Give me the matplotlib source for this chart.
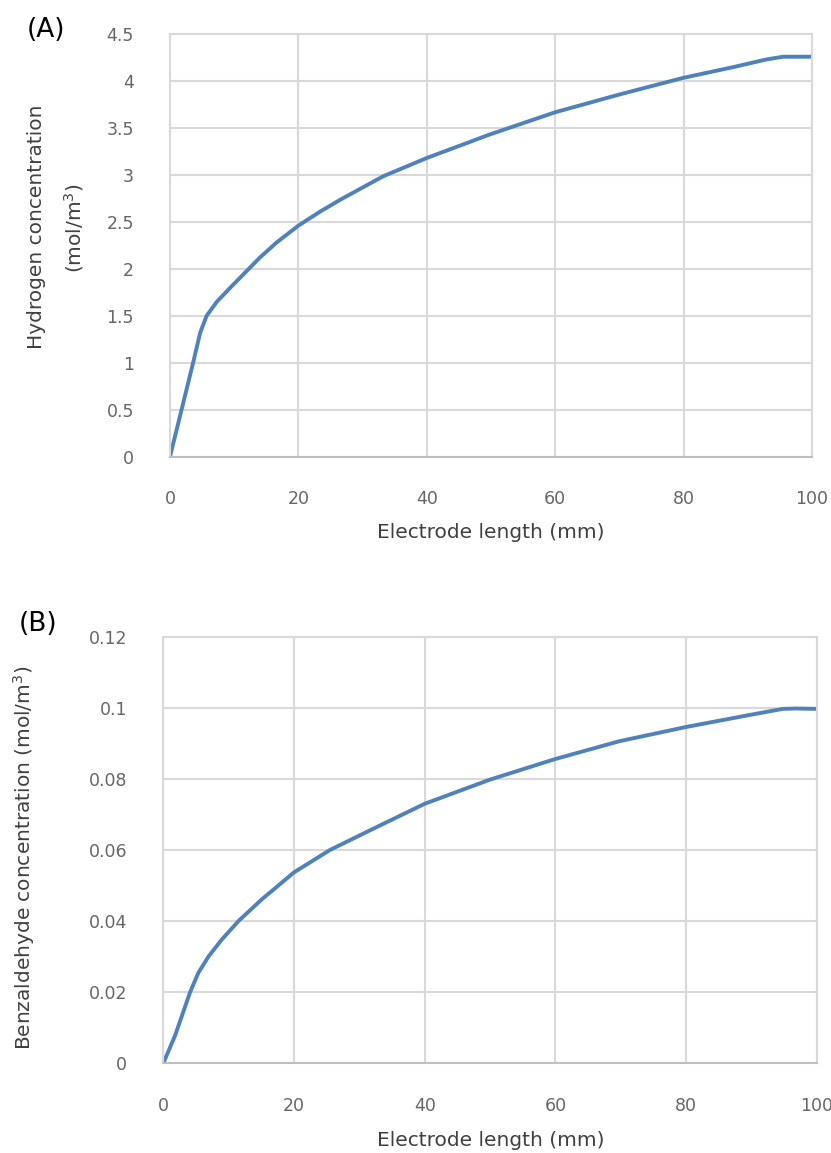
import matplotlib.pyplot as plt
from matplotlib.ticker import FuncFormatter

plt.rcParams['font.family'] = ['DejaVu Sans']

# (A) hydrogen concentration along the electrode
length_a = [0, 1.8, 3.6, 4.7, 5.7, 7.3, 9.4, 11.7, 14.0, 16.6, 20.0, 23.4, 26.5,
            33.2, 40.0, 49.8, 60.0, 70.0, 80.0, 87.7, 92.9, 95.5, 100]
hydrogen = [0, 0.50, 1.00, 1.32, 1.50, 1.65, 1.80, 1.96, 2.12, 2.28, 2.46, 2.61, 2.735,
            2.985, 3.18, 3.43, 3.667, 3.856, 4.034, 4.147, 4.229, 4.258, 4.258]

# (B) benzaldehyde concentration along the electrode
length_b = [0, 1.8, 4.1, 5.35, 6.9, 8.9, 11.5, 15.0, 20.0, 25.5, 32.6, 40.0,
            50.0, 60.0, 69.8, 80.0, 89.2, 94.8, 96.8, 100]
benzaldehyde = [0, 0.0078, 0.020, 0.0254, 0.030, 0.0347, 0.040, 0.046, 0.0537, 0.060,
                0.0664, 0.073, 0.0798, 0.0856, 0.0906, 0.0946, 0.0978, 0.0997, 0.0998, 0.0997]

x_ticks = [0, 20, 40, 60, 80, 100]
a_ticks = [0, 0.5, 1, 1.5, 2, 2.5, 3, 3.5, 4, 4.5]
b_ticks = [0, 0.02, 0.04, 0.06, 0.08, 0.1, 0.12]

W, H = 831, 1153
line_color = '#4f81bd'
grid_color = '#d9d9d9'
tick_color = '#666666'
label_color = '#404040'

fig = plt.figure(figsize=(W / 100, H / 100), dpi=100)


def px(x, y):
    return x / W, 1 - y / H


def style_axes(ax, yticks, fmt):
    ax.set_xlim(0, 100)
    ax.set_ylim(yticks[0], yticks[-1])
    ax.set_xticks(x_ticks)
    ax.set_yticks(yticks)
    ax.yaxis.set_major_formatter(FuncFormatter(fmt))
    ax.grid(True, color=grid_color, linewidth=1.5)
    ax.set_axisbelow(True)
    for side in ['top', 'right', 'left']:
        ax.spines[side].set_color(grid_color)
        ax.spines[side].set_linewidth(1.5)
    ax.spines['bottom'].set_color('#bfbfbf')
    ax.spines['bottom'].set_linewidth(1.5)
    ax.tick_params(length=0, colors=tick_color, labelsize=12.5)
    ax.tick_params(axis='y', pad=26)
    ax.tick_params(axis='x', pad=24)


def fmt_a(v, pos):
    return ('%g' % v)


def fmt_b(v, pos):
    return ('%g' % round(v, 2))


# panel A
ax1 = fig.add_axes([170 / W, 1 - 456.7 / H, (812 - 170) / W, (456.7 - 34) / H])
ax1.plot(length_a, hydrogen, color=line_color, linewidth=2.8,
         solid_joinstyle='round', solid_capstyle='round')
style_axes(ax1, a_ticks, fmt_a)

# panel B
ax2 = fig.add_axes([163.3 / W, 1 - 1063.3 / H, (816.7 - 163.3) / W, (1063.3 - 636.7) / H])
ax2.plot(length_b, benzaldehyde, color=line_color, linewidth=2.8,
         solid_joinstyle='round', solid_capstyle='round')
style_axes(ax2, b_ticks, fmt_b)

# labels
fig.text(*px(46, 30), '(A)', fontsize=19, ha='center', va='center', color='black')
fig.text(*px(38, 624), '(B)', fontsize=19, ha='center', va='center', color='black')

fig.text(*px(491, 532), 'Electrode length (mm)', fontsize=14.5, ha='center', va='center',
         color=label_color)
fig.text(*px(491, 1141), 'Electrode length (mm)', fontsize=14.5, ha='center', va='center',
         color=label_color)

fig.text(*px(37, 227), 'Hydrogen concentration', fontsize=14.5, rotation=90,
         ha='center', va='center', color=label_color)
fig.text(*px(74, 228), '(mol/m$^3$)', fontsize=14.5, rotation=90,
         ha='center', va='center', color=label_color)
fig.text(*px(24, 858), 'Benzaldehyde concentration (mol/m$^3$)', fontsize=14.5, rotation=90,
         ha='center', va='center', color=label_color)

fig.savefig('out.png', dpi=100)
